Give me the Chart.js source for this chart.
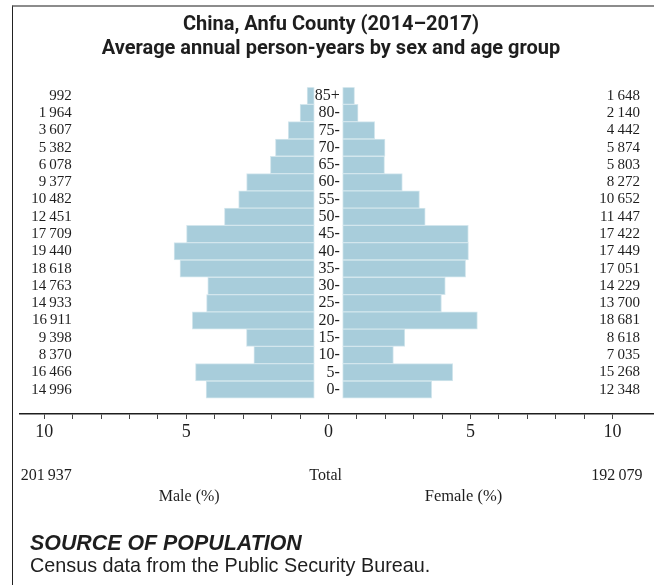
<!DOCTYPE html>
<html>
<head>
<meta charset="utf-8">
<script src="https://cdn.jsdelivr.net/npm/chart.js@4.4.1/dist/chart.umd.min.js"></script>
<style>
  html, body { margin: 0; padding: 0; background: #fff; }
  #wrap { position: relative; width: 654px; height: 585px; overflow: hidden; }
  #frame { position: absolute; left: 12px; top: 5px; right: -2px; bottom: -2px;
           border-left: 1px solid #222; border-top: 2px solid #8c8c8c; }
  #pyramid { position: absolute; left: 0; top: 0; }
</style>
</head>
<body>
<div id="wrap">
  <div id="frame"></div>
  <canvas id="pyramid" width="654" height="585"></canvas>
</div>
<script>
// Age groups, top of the pyramid first
const ageGroups = ["85+", "80-", "75-", "70-", "65-", "60-", "55-", "50-", "45-",
    "40-", "35-", "30-", "25-", "20-", "15-", "10-", "5-", "0-"];

// Average annual person-years
const maleCounts = [992, 1964, 3607, 5382, 6078, 9377, 10482, 12451, 17709,
    19440, 18618, 14763, 14933, 16911, 9398, 8370, 16466, 14996];
const femaleCounts = [1648, 2140, 4442, 5874, 5803, 8272, 10652, 11447, 17422,
    17449, 17051, 14229, 13700, 18681, 8618, 7035, 15268, 12348];

const maleTotal = 201937;
const femaleTotal = 192079;

// Tick labels on the percent axis
const axisLabels = [-10, -5, 0, 5, 10];

const grandTotal = maleTotal + femaleTotal;
const gap = 0.5; // half width of the age label column, in percent units

const fmt = (n) => String(n).replace(/\B(?=(\d{3})+(?!\d))/g, "\u2009");

const maleBars = maleCounts.map((c, i) => ({ x: [-gap - c / grandTotal * 100, -gap], y: i }));
const femaleBars = femaleCounts.map((c, i) => ({ x: [gap, gap + c / grandTotal * 100], y: i }));

const serif = '"Liberation Serif", "DejaVu Serif", serif';
const sans = 'Roboto, "Liberation Sans", sans-serif';
const arial = '"Liberation Sans", Arial, sans-serif';

// Counts, age labels, totals and source note
const sideLabels = {
    id: "sideLabels",
    afterDatasetsDraw(chart) {
        const { ctx, scales: { x, y } } = chart;
        ctx.save();
        ctx.fillStyle = "#1e1e1e";
        ctx.textBaseline = "middle";
        ageGroups.forEach((age, i) => {
            const py = y.getPixelForValue(i);
            ctx.textAlign = "right";
            ctx.font = "15px " + serif;
            ctx.fillText(fmt(maleCounts[i]), x.getPixelForValue(-9.03), py);
            ctx.fillText(fmt(femaleCounts[i]), x.getPixelForValue(10.96), py);
            ctx.font = "16px " + serif;
            ctx.fillText(age, x.getPixelForValue(0.4), py);
        });

        ctx.font = "16px " + serif;
        ctx.textAlign = "right";
        ctx.fillText(fmt(maleTotal), x.getPixelForValue(-9.03), 476);
        ctx.fillText(fmt(femaleTotal), x.getPixelForValue(11.05), 476);
        ctx.textAlign = "center";
        ctx.fillText("Total", x.getPixelForValue(-0.1), 476);
        ctx.fillText("Male (%)", x.getPixelForValue(-4.9), 497);
        ctx.font = "16.5px " + serif;
        ctx.fillText("Female (%)", x.getPixelForValue(4.75), 497);

        ctx.textAlign = "left";
        ctx.font = "italic bold 21.4px " + arial;
        ctx.fillText("SOURCE OF POPULATION", 30, 544);
        ctx.font = "19.8px " + arial;
        ctx.fillText("Census data from the Public Security Bureau.", 30, 567);
        ctx.restore();
    }
};

new Chart(document.getElementById("pyramid"), {
    type: "bar",
    plugins: [sideLabels],
    data: {
        datasets: [
            { label: "Male", data: maleBars },
            { label: "Female", data: femaleBars }
        ]
    },
    options: {
        indexAxis: "y",
        responsive: false,
        animation: false,
        grouped: false,
        categoryPercentage: 1,
        barPercentage: 1,
        backgroundColor: "#a8cddb",
        borderColor: "#d3e6ed",
        borderWidth: 1,
        borderSkipped: false,
        layout: { padding: { left: 8, right: 0, top: 0, bottom: 143 } },
        scales: {
            x: {
                type: "linear",
                min: -10.855,
                max: 11.457,
                afterBuildTicks: (scale) => {
                    const t = [];
                    for (let v = -10; v <= 10; v++) t.push({ value: v });
                    scale.ticks = t;
                },
                afterFit: (scale) => { scale.height = 28; },
                ticks: {
                    autoSkip: false,
                    maxRotation: 0,
                    padding: 2,
                    color: "#1e1e1e",
                    font: { family: serif, size: 18 },
                    callback: (v) => axisLabels.includes(v) ? String(Math.abs(v)) : ""
                },
                grid: { drawOnChartArea: false, drawTicks: true, tickLength: 5, color: "#444", lineWidth: 1 },
                border: { display: true, color: "#1e1e1e", width: 1.5 }
            },
            y: {
                type: "linear",
                reverse: true,
                offset: false,
                min: -0.49,
                max: 18.41,
                afterBuildTicks: (scale) => {
                    scale.ticks = ageGroups.map((_, i) => ({ value: i }));
                },
                afterFit: (scale) => { scale.width = 12; },
                ticks: { display: false },
                grid: { display: false },
                border: { display: false }
            }
        },
        plugins: {
            legend: { display: false },
            tooltip: { enabled: false },
            title: {
                display: true,
                text: ["China, Anfu County (2014\u20132017)",
                    "Average annual person-years by sex and age group"],
                color: "#1e1e1e",
                font: { family: sans, weight: "bold", size: 20, lineHeight: 1.2 },
                padding: { top: 13, bottom: 26.3 }
            }
        }
    }
});
</script>
</body>
</html>
